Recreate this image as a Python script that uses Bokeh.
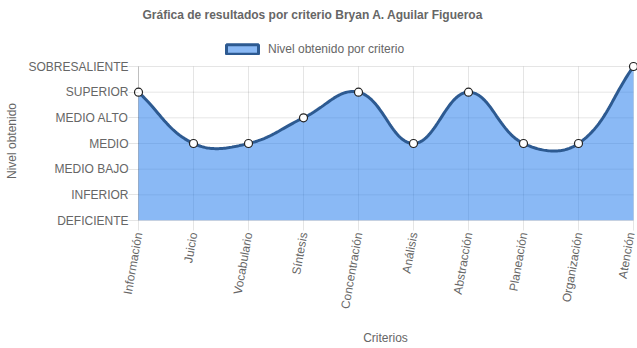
import numpy as np
from bokeh.plotting import figure
from bokeh.layouts import column
from bokeh.models import Range1d, FixedTicker, Legend, LegendItem
from bokeh.embed import file_html
from bokeh.resources import INLINE

criterios = ["Información", "Juicio", "Vocabulario", "Síntesis", "Concentración",
             "Análisis", "Abstracción", "Planeación", "Organización", "Atención"]
niveles = ["DEFICIENTE", "INFERIOR", "MEDIO BAJO", "MEDIO", "MEDIO ALTO",
           "SUPERIOR", "SOBRESALIENTE"]
resultados = ["SUPERIOR", "MEDIO", "MEDIO", "MEDIO ALTO", "SUPERIOR",
              "MEDIO", "SUPERIOR", "MEDIO", "MEDIO", "SOBRESALIENTE"]

titulo = "Gráfica de resultados por criterio Bryan A. Aguilar Figueroa"
serie = "Nivel obtenido por criterio"
eje_x = "Criterios"
eje_y = "Nivel obtenido"

W = 637
HEAD_H = 58
AREA_W, AREA_H = 495, 154          # pixel size of the data area
PAD_L, PAD_R, PAD_T = 5, 4, 5      # room so edge markers are not clipped
LEFT = 133
TENSION = 0.4
FILL = "#1e78eb"
FILL_ALPHA = 0.52
LINE = "#2d5a91"
GRAY = "#666666"
FONT = "Liberation Sans"

nx, ny = len(criterios) - 1, len(niveles) - 1
x = np.arange(len(criterios), dtype=float)
y = np.array([niveles.index(r) for r in resultados], dtype=float)
kx = AREA_W / nx
ky = AREA_H / ny


def spline(xd, yd, samples=40):
    n = len(xd)
    px, py = xd * kx, yd * ky
    cprev, cnext = [], []
    for i in range(n):
        a = max(i - 1, 0)
        b = min(i + 1, n - 1)
        d01 = np.hypot(px[i] - px[a], py[i] - py[a])
        d12 = np.hypot(px[b] - px[i], py[b] - py[i])
        s = d01 + d12
        s01 = d01 / s if s else 0.0
        s12 = d12 / s if s else 0.0
        dx, dy = px[b] - px[a], py[b] - py[a]
        fa, fb = TENSION * s01, TENSION * s12
        cp = (min(max(px[i] - fa * dx, 0), AREA_W), min(max(py[i] - fa * dy, 0), AREA_H))
        cn = (min(max(px[i] + fb * dx, 0), AREA_W), min(max(py[i] + fb * dy, 0), AREA_H))
        cprev.append(cp)
        cnext.append(cn)
    t = np.linspace(0, 1, samples)
    xs, ys = [], []
    for i in range(n - 1):
        p0 = np.array([px[i], py[i]])
        p1 = np.array(cnext[i])
        p2 = np.array(cprev[i + 1])
        p3 = np.array([px[i + 1], py[i + 1]])
        tt = t if i == 0 else t[1:]
        for u in tt:
            q = ((1 - u) ** 3) * p0 + 3 * ((1 - u) ** 2) * u * p1 + 3 * (1 - u) * u * u * p2 + u ** 3 * p3
            xs.append(q[0])
            ys.append(q[1])
    return np.array(xs) / kx, np.array(ys) / ky


cx, cy = spline(x, y)

# ---- header: title + legend (its frame is aligned with the chart frame) ----
head = figure(width=W, height=HEAD_H, x_range=Range1d(0, 1), y_range=Range1d(0, 1),
              output_backend="svg", toolbar_location=None, min_border=0,
              min_border_left=LEFT, min_border_right=0,
              x_axis_location=None, y_axis_location=None, title=titulo)
head.outline_line_color = None
head.grid.visible = False
head.title.align = "left"
head.title.offset = 9
head.title.text_font = FONT
head.title.text_font_size = "12px"
head.title.text_font_style = "bold"
head.title.text_color = GRAY

dummy = head.quad(left=[np.nan], right=[np.nan], top=[np.nan], bottom=[np.nan],
                  fill_color=FILL, fill_alpha=FILL_ALPHA, line_color=LINE, line_width=3)
legend = Legend(items=[LegendItem(label=serie, renderers=[dummy])],
                location=(89, 2), orientation="horizontal",
                glyph_width=40, glyph_height=12, label_height=12,
                label_text_font=FONT, label_text_font_size="12px",
                label_text_color=GRAY, padding=0, margin=0, spacing=0,
                label_standoff=6, border_line_color=None,
                background_fill_alpha=0)
head.add_layout(legend)

# ---- main chart ----
p = figure(width=W, height=348 - HEAD_H,
           x_range=Range1d(-PAD_L / kx, nx + PAD_R / kx),
           y_range=Range1d(0, ny + PAD_T / ky), output_backend="svg",
           toolbar_location=None, min_border_left=LEFT, min_border_right=0,
           min_border_top=3, min_border_bottom=128)
p.outline_line_color = None
p.grid.visible = False

# grid lines over the data area only (first line darker, as the zero line)
gx = np.arange(nx + 1, dtype=float)
gy = np.arange(ny + 1, dtype=float)
p.segment(x0=gx, y0=0, x1=gx, y1=ny, line_color="black",
          line_alpha=[0.25] + [0.1] * nx, line_width=1)
p.segment(x0=0, y0=gy, x1=nx, y1=gy, line_color="black",
          line_alpha=[0.25] + [0.1] * ny, line_width=1)

p.varea(x=cx, y1=np.zeros_like(cy), y2=cy, fill_color=FILL, fill_alpha=FILL_ALPHA)
p.line(cx, cy, line_color=LINE, line_width=3)
p.scatter(x, y, size=8, fill_color="white", line_color="#222222", line_width=1.2)

p.xaxis.ticker = FixedTicker(ticks=list(range(len(criterios))))
p.xaxis.major_label_overrides = {i: c for i, c in enumerate(criterios)}
p.xaxis.major_label_orientation = 80 * np.pi / 180
p.yaxis.ticker = FixedTicker(ticks=list(range(len(niveles))))
p.yaxis.major_label_overrides = {i: n for i, n in enumerate(niveles)}

for ax in (p.xaxis, p.yaxis):
    ax.major_label_text_font = FONT
    ax.major_label_text_font_size = "12px"
    ax.major_label_text_color = GRAY
    ax.axis_label_text_font = FONT
    ax.axis_label_text_font_size = "12px"
    ax.axis_label_text_color = GRAY
    ax.axis_label_text_font_style = "normal"
    ax.major_tick_line_color = "black"
    ax.major_tick_line_alpha = 0.1
    ax.minor_tick_line_color = None
    ax.axis_line_color = None

p.xaxis.major_tick_in = 0
p.xaxis.major_tick_out = 10
p.yaxis.major_tick_in = PAD_L
p.yaxis.major_tick_out = 10 - PAD_L

p.xaxis.major_label_standoff = 2
p.yaxis.major_label_standoff = 0
p.xaxis.axis_label = eje_x
p.yaxis.axis_label = eje_y
p.xaxis.axis_label_standoff = 17
p.yaxis.axis_label_standoff = 6

layout = column(head, p, spacing=0)
open("out.html", "w").write(file_html(layout, INLINE))
